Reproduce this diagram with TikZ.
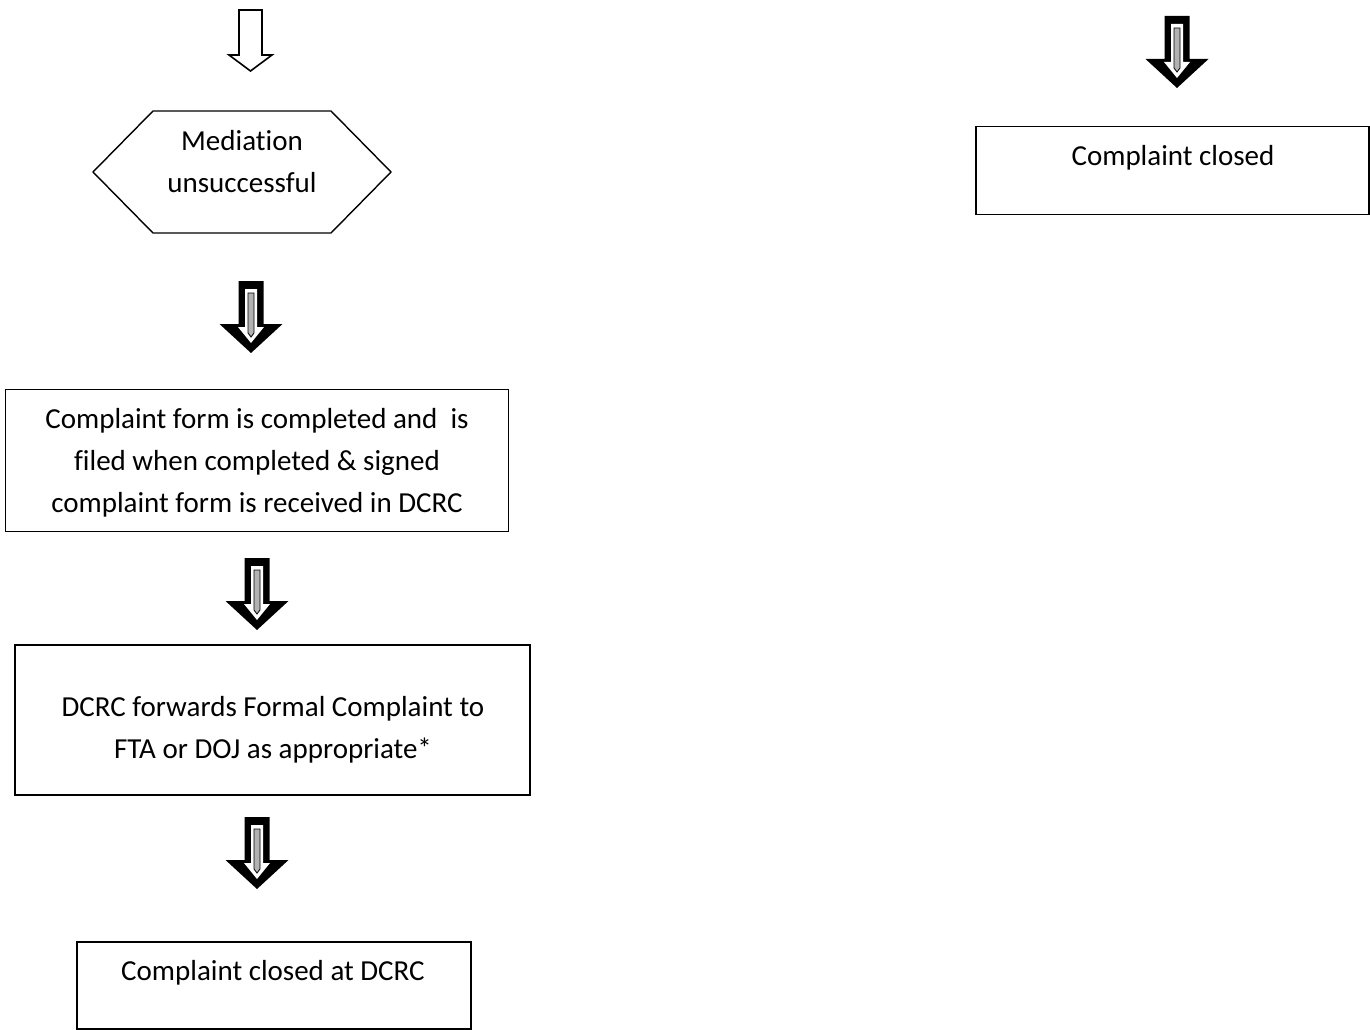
\documentclass[tikz,border=0pt]{standalone}
\usepackage{fontspec}
\setmainfont{Carlito}[Ligatures={NoCommon}]
\begin{document}
\begin{tikzpicture}[x=1pt,y=-1pt,
  boxstyle/.style={draw=black,line width=1.6pt,fill=none},
  txt/.style={inner sep=0pt,align=center,font=\fontsize{29}{42}\selectfont},
  thickarrow/.pic={
    \fill[black] (-12.5,0) -- (-12.5,43) -- (-31.5,43) -- (0,72) -- (31.5,43) -- (12.5,43) -- (12.5,0) -- cycle;
    \fill[white] (-6,8) -- (-6,46) -- (-13,46) -- (0,62) -- (13,46) -- (6,46) -- (6,8) -- cycle;
    \draw[black,line width=0.8pt,fill=gray!60] (-3,12) -- (-3,52) -- (0,56) -- (3,52) -- (3,12) -- cycle;
  }]
\useasboundingbox (0,0) rectangle (1370,1030);
\fill[white] (0,0) rectangle (1370,1030);

% hollow top arrow
\draw[line width=1.6pt,line join=miter] (239,10) -- (239,55) -- (229,55) -- (250.5,71) -- (272,55) -- (262,55) -- (262,10) -- cycle;

% hexagon
\coordinate (hexc) at (242,172);
\draw[line width=1.4pt] (153,111) -- (331,111) -- (391,172) -- (331,233) -- (153,233) -- (93,172) -- cycle;
\node[txt] (t-med) at (242,162) {Mediation\\unsuccessful};

% boxes
\node[boxstyle,minimum width=503pt,minimum height=142pt,inner sep=0pt] (b1) at (257,460.5) {};
\node[txt] (t1) at (257,463) {Complaint form is completed and\ \ is\\filed when completed \& signed\\complaint form is received in DCRC};

\node[boxstyle,minimum width=515pt,minimum height=150pt,inner sep=0pt] (b2) at (272.5,720) {};
\node[txt] (t2) at (273,730) {DCRC forwards Formal Complaint to\\FTA or DOJ as appropriate*};

\node[boxstyle,minimum width=394pt,minimum height=87pt,inner sep=0pt] (b3) at (274,985.5) {};
\node[txt] (t3) at (273,973) {Complaint closed at DCRC};

\node[boxstyle,minimum width=393pt,minimum height=88pt,inner sep=0pt] (b4) at (1172.5,170.5) {};
\node[txt] (t4) at (1173,158) {Complaint closed};

% thick arrows
\pic at (251,281) {thickarrow};
\pic at (257,558) {thickarrow};
\pic at (257,817) {thickarrow};
\pic at (1177,16) {thickarrow};
\end{tikzpicture}
\end{document}
